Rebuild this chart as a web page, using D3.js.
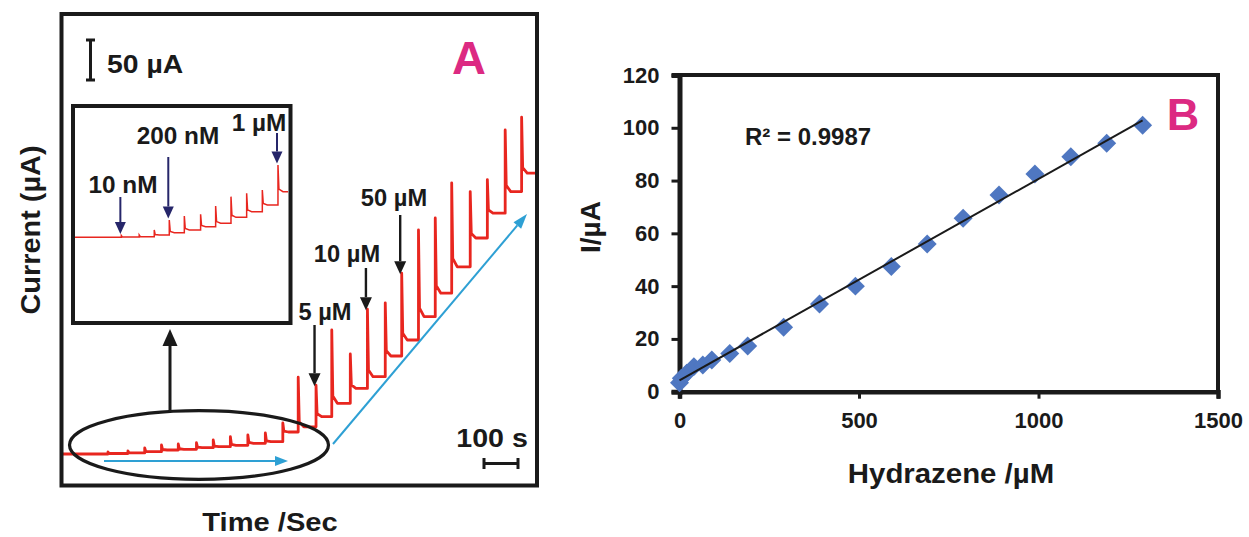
<!DOCTYPE html>
<html>
<head>
<meta charset="utf-8">
<script src="https://cdn.jsdelivr.net/npm/d3@7"></script>
<style>
  body { margin: 0; background: #fff; }
  svg { display: block; font-family: "Liberation Sans", Arial, sans-serif; font-weight: bold; }
</style>
</head>
<body>
<svg id="chart"></svg>
<script>
const width = 1249;
const height = 537;

// ----- DATA: panel A (time in s, current in µA above the starting baseline) -----
const stepTimes  = [133, 190, 238, 286, 334, 386, 434, 483, 533, 583, 633, 677, 728, 773, 826, 875, 926, 973, 1021, 1069, 1116, 1169, 1218, 1269, 1316];
const spikeTops  = [2.5, 3.8, 7.5, 11.3, 12.5, 14.1, 17.5, 21.6, 23.8, 26.3, 38.8, 96, 86, 155, 125, 181, 189, 226, 280, 295, 339, 328, 343, 405, 421];
const stepLevels = [0.6, 1.3, 2.9, 5, 5.9, 7.9, 9.1, 10.9, 13.4, 15.4, 27.5, 34, 46.6, 63.4, 82, 96.6, 122.5, 142.5, 171.6, 201, 234, 270, 301, 328, 351];

// inset (magnified low-concentration part, first 11 additions)
const insetTops   = [1.1, 1.4, 4.6, 10.8, 13.3, 14.4, 19.6, 25.4, 27.5, 29.6, 45.2];
const insetLevels = [0.2, 0.4, 1.4, 2.9, 4.6, 6.6, 8.75, 12.5, 16, 20.2, 28.5];

const mainMarks  = [{ step: 12, text: "5 µM" }, { step: 15, text: "10 µM" }, { step: 17, text: "50 µM" }];
const insetMarks = [{ step: 0, text: "10 nM" }, { step: 3, text: "200 nM" }, { step: 10, text: "1 µM" }];

// ----- DATA: panel B calibration -----
const conc    = [0, 5, 20, 40, 65, 90, 140, 190, 290, 390, 490, 590, 690, 790, 890, 990, 1090, 1190, 1290];
const current = [3.4, 5.1, 7, 9.5, 10.1, 12, 14.5, 17.3, 24.4, 33.2, 40, 47.4, 56, 65.7, 74.5, 82.5, 89, 94.1, 101];
const xTicks = [0, 500, 1000, 1500];
const yTicks = [0, 20, 40, 60, 80, 100, 120];

const INK = "#1a1a1a";
const RED = "#e8261f";
const BLUE = "#2ea0d4";
const NAVY = "#26266a";
const MAGENTA = "#dc2a82";

const svg = d3.select("#chart")
  .attr("width", width)
  .attr("height", height)
  .attr("viewBox", [0, 0, width, height]);

svg.append("rect").attr("width", width).attr("height", height).attr("fill", "#fff");

// text helper: the source figure's lettering is a bit wider than Arial
function label(g, text, x, y, size, opts = {}) {
  const sx = opts.stretch || 1;
  const rot = opts.rotate || 0;
  return g.append("text")
    .attr("transform", `translate(${x},${y}) rotate(${rot}) scale(${sx},1)`)
    .attr("text-anchor", opts.anchor || "start")
    .attr("font-size", size)
    .attr("fill", opts.color || INK)
    .text(text);
}

function arrow(g, x1, y1, x2, y2, color, w, headLen, headW) {
  const a = Math.atan2(y2 - y1, x2 - x1);
  const bx = x2 - headLen * Math.cos(a);
  const by = y2 - headLen * Math.sin(a);
  g.append("line")
    .attr("x1", x1).attr("y1", y1).attr("x2", bx).attr("y2", by)
    .attr("stroke", color).attr("stroke-width", w);
  const px = Math.sin(a) * headW / 2, py = -Math.cos(a) * headW / 2;
  g.append("polygon")
    .attr("points", [[x2, y2], [bx + px, by + py], [bx - px, by - py]].map(p => p.join(",")).join(" "))
    .attr("fill", color);
}

// builds the staircase: flat level, sharp injection spike, quick decay to next level
function tracePoints(times, tops, levels, tStart, tEnd) {
  const pts = [[tStart, 0]];
  let prev = 0;
  times.forEach((t, i) => {
    const top = tops[i], lvl = levels[i];
    pts.push([t, prev], [t, top], [t + 3, lvl + (top - lvl) * 0.1], [t + 16, lvl]);
    prev = lvl;
  });
  pts.push([tEnd, prev]);
  return pts;
}

// ================= PANEL A =================
const A = svg.append("g");
const xA = d3.scaleLinear().domain([0, 1360]).range([61.5, 537]);
const yA = d3.scaleLinear().domain([-40, 550]).range([486, 14]);

const lineA = d3.line().x(d => xA(d[0])).y(d => yA(d[1]));

A.append("defs").append("clipPath").attr("id", "clipA")
  .append("rect").attr("x", 63).attr("y", 16).attr("width", 472).attr("height", 468);

A.append("path")
  .datum(tracePoints(stepTimes, spikeTops, stepLevels, 0, 1360))
  .attr("clip-path", "url(#clipA)")
  .attr("fill", "none")
  .attr("stroke", RED)
  .attr("stroke-width", 2.8)
  .attr("stroke-linejoin", "round")
  .attr("d", lineA);

// ellipse marking the low-concentration region
A.append("ellipse")
  .attr("cx", 199).attr("cy", 445).attr("rx", 129.5).attr("ry", 34.3)
  .attr("fill", "none").attr("stroke", INK).attr("stroke-width", 3.2);

arrow(A, 104, 461, 288, 461, BLUE, 2, 13, 10);
arrow(A, 333, 444, 527, 214, BLUE, 2, 15, 10);
arrow(A, 170, 411, 170, 329, INK, 3, 17, 15);

// step annotations on the main trace
const mainLabelPos = [[325, 320], [347, 262], [394, 206]];
const mainArrowTop = [325, 268, 215];
mainMarks.forEach((m, i) => {
  const x = xA(stepTimes[m.step]) - 1.5;
  arrow(A, x, mainArrowTop[i], x, yA(spikeTops[m.step]) + 1, INK, 2.4, 13, 12);
  label(A, m.text, mainLabelPos[i][0], mainLabelPos[i][1], 23, { anchor: "middle", stretch: 1.03 });
});

// inset
const inset = A.append("g");
const xI = d3.scaleLinear().domain([-15, 665]).range([75, 288]);
const yI = d3.scaleLinear().domain([-52.3, 80.8]).range([321, 108]);
const lineI = d3.line().x(d => xI(d[0])).y(d => yI(d[1]));

inset.append("defs").append("clipPath").attr("id", "clipI")
  .append("rect").attr("x", 75).attr("y", 108).attr("width", 213.5).attr("height", 213);

inset.append("path")
  .datum(tracePoints(stepTimes.slice(0, 11), insetTops, insetLevels, -15, 665))
  .attr("clip-path", "url(#clipI)")
  .attr("fill", "none")
  .attr("stroke", RED)
  .attr("stroke-width", 1.5)
  .attr("d", lineI);

inset.append("rect")
  .attr("x", 73).attr("y", 106).attr("width", 217.5).attr("height", 217)
  .attr("fill", "none").attr("stroke", INK).attr("stroke-width", 4);

const insetLabelPos = [[123, 193], [178, 144], [259, 131]];
const insetArrowTop = [197, 157, 133];
insetMarks.forEach((m, i) => {
  const x = xI(stepTimes[m.step]) - 1;
  arrow(inset, x, insetArrowTop[i], x, yI(insetTops[m.step]) - 1.5, NAVY, 2, 12, 11);
  label(inset, m.text, insetLabelPos[i][0], insetLabelPos[i][1], 23, { anchor: "middle", stretch: 1.06 });
});

// scale bars
A.append("path")
  .attr("d", "M86,40H95M90.5,40V80M86,80H95")
  .attr("fill", "none").attr("stroke", INK).attr("stroke-width", 3);
label(A, "50 µA", 107, 73, 26, { stretch: 1.09 });

A.append("path")
  .attr("d", "M484,458V469M484,463.5H518M518,458V469")
  .attr("fill", "none").attr("stroke", INK).attr("stroke-width", 3);
label(A, "100 s", 492, 447, 26, { anchor: "middle", stretch: 1.1 });

label(A, "A", 469, 74, 47, { anchor: "middle", color: MAGENTA });

// outer frame and axis titles
A.append("rect")
  .attr("x", 61.5).attr("y", 14).attr("width", 475.5).attr("height", 471.5)
  .attr("fill", "none").attr("stroke", INK).attr("stroke-width", 4);

label(A, "Time /Sec", 270, 531, 26, { anchor: "middle", stretch: 1.12 });
label(A, "Current (µA)", 40, 230, 27, { anchor: "middle", rotate: -90, stretch: 1.07 });

// ================= PANEL B =================
const B = svg.append("g");
const xB = d3.scaleLinear().domain([0, 1500]).range([679.5, 1218]);
const yB = d3.scaleLinear().domain([0, 120]).range([391.7, 75]);

// frame (top and right sides)
B.append("path")
  .attr("d", `M${xB(0)},${yB(120)}H${xB(1500)}V${yB(0)}`)
  .attr("fill", "none").attr("stroke", INK).attr("stroke-width", 4);

const gx = B.append("g")
  .attr("transform", `translate(0,${yB(0)})`)
  .call(d3.axisBottom(xB).tickValues(xTicks).tickFormat(d3.format("d")).tickSize(7).tickPadding(14));
const gy = B.append("g")
  .attr("transform", `translate(${xB(0)},0)`)
  .call(d3.axisLeft(yB).tickValues(yTicks).tickFormat(d3.format("d")).tickSize(8).tickPadding(12));

gx.select(".domain").attr("stroke", INK).attr("stroke-width", 4.5);
gy.select(".domain").attr("stroke", INK).attr("stroke-width", 5);
[gx, gy].forEach(g => {
  g.selectAll(".tick line").attr("stroke", INK).attr("stroke-width", 3);
  g.selectAll(".tick text")
    .attr("fill", INK)
    .attr("font-size", 22)
    .attr("font-family", "Liberation Sans, Arial, sans-serif")
    .attr("font-weight", "bold");
});

// least-squares trend line through the calibration points
const mx = d3.mean(conc), my = d3.mean(current);
const slope = d3.sum(conc, (x, i) => (x - mx) * (current[i] - my)) / d3.sum(conc, x => (x - mx) ** 2);
const icpt = my - slope * mx;
const fitX = d3.extent(conc);

B.append("g")
  .selectAll("path")
  .data(conc)
  .join("path")
  .attr("transform", (d, i) => `translate(${xB(d)},${yB(current[i])}) rotate(45)`)
  .attr("d", d3.symbol(d3.symbolSquare, 180))
  .attr("fill", "#4f77c1");

B.append("line")
  .attr("x1", xB(fitX[0])).attr("y1", yB(icpt + slope * fitX[0]))
  .attr("x2", xB(fitX[1])).attr("y2", yB(icpt + slope * fitX[1]))
  .attr("stroke", INK).attr("stroke-width", 2);

label(B, "R² = 0.9987", 745, 145, 24);
label(B, "B", 1183, 130, 45, { anchor: "middle", color: MAGENTA });
label(B, "Hydrazene /µM", 951, 483, 28, { anchor: "middle", stretch: 1.05 });
label(B, "I/µA", 600, 227, 28, { anchor: "middle", rotate: -90 });
</script>
</body>
</html>
